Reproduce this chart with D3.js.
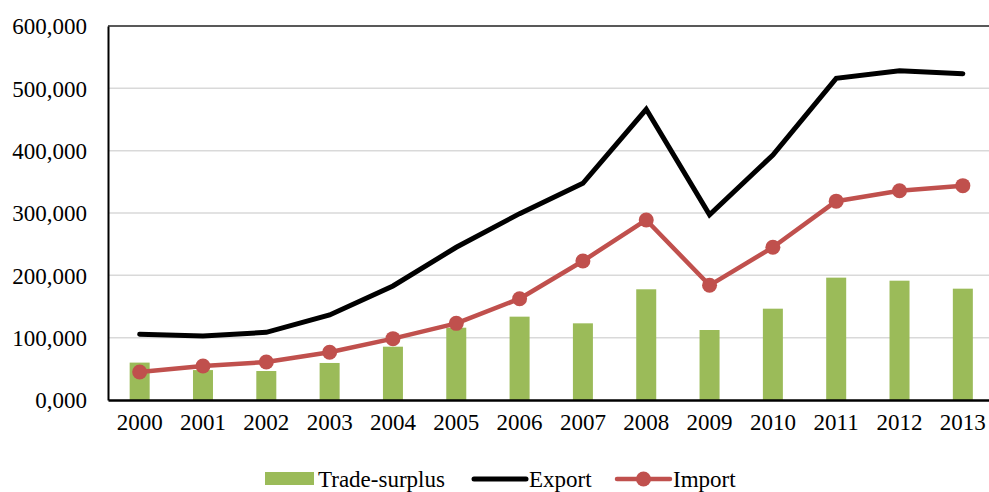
<!DOCTYPE html>
<html>
<head>
<meta charset="utf-8">
<script src="https://cdn.jsdelivr.net/npm/d3@7/dist/d3.min.js"></script>
<style>
  html, body { margin: 0; padding: 0; background: #fff; }
  svg { display: block; }
  svg text { font-family: "Liberation Serif", "Times New Roman", serif !important; fill: #000; font-size: 23px; }
</style>
</head>
<body>
<script>
// Annual trade figures, 2000–2013
const years = ["2000","2001","2002","2003","2004","2005","2006","2007","2008","2009","2010","2011","2012","2013"];
const exportValues = [105400, 102700, 108600, 136400, 183000, 245000, 299000, 347600, 466400, 297000, 393000, 516000, 528300, 523500];
const importValues = [45000, 54500, 61000, 76500, 98400, 123000, 162500, 223000, 288800, 184000, 245000, 319000, 335800, 343900];
const surplusValues = [60000, 48000, 46500, 59400, 85500, 116000, 133700, 123000, 177600, 112300, 146500, 196300, 191400, 178600];
const yTicks = [0, 100000, 200000, 300000, 400000, 500000, 600000];

const W = 989, H = 492;
const plotLeft = 108, plotRight = 994.5, plotTop = 26, plotBottom = 400;

const svg = d3.select("body").append("svg").attr("width", W).attr("height", H);

const x = d3.scaleBand().domain(years).range([plotLeft, plotRight]).padding(0);
const y = d3.scaleLinear().domain([0, 600000]).range([plotBottom, plotTop]);

const fmt = v => v === 0 ? "0,000" : d3.format(",")(v);

// gridlines
svg.append("g")
  .selectAll("line")
  .data(yTicks.filter(t => t > 0 && t < 600000))
  .join("line")
  .attr("x1", plotLeft).attr("x2", plotRight)
  .attr("y1", d => y(d)).attr("y2", d => y(d))
  .attr("stroke", "#d9d9d9").attr("stroke-width", 1.5);

// top frame line
svg.append("line")
  .attr("x1", plotLeft).attr("x2", plotRight)
  .attr("y1", y(600000)).attr("y2", y(600000))
  .attr("stroke", "#222").attr("stroke-width", 1.5);

// y axis
const yAxis = d3.axisLeft(y).tickValues(yTicks).tickFormat(fmt).tickSize(0).tickPadding(21);
const gy = svg.append("g").attr("transform", `translate(${plotLeft},0)`).call(yAxis);
gy.select(".domain").attr("stroke", "#000").attr("stroke-width", 2);
gy.selectAll("text").attr("dy", "0.34em");

// bars: trade surplus
const barW = 20;
svg.append("g")
  .selectAll("rect")
  .data(surplusValues)
  .join("rect")
  .attr("x", (d, i) => x(years[i]) + x.bandwidth() / 2 - barW / 2)
  .attr("width", barW)
  .attr("y", d => y(d))
  .attr("height", d => y(0) - y(d))
  .attr("fill", "#9bbb59");

// x axis
const xAxis = d3.axisBottom(x).tickSize(0).tickPadding(14);
const gx = svg.append("g").attr("transform", `translate(0,${y(0)})`).call(xAxis);
gx.select(".domain").attr("stroke", "#000").attr("stroke-width", 2.5);

const cx = i => x(years[i]) + x.bandwidth() / 2;

// export line
svg.append("path")
  .datum(exportValues)
  .attr("fill", "none")
  .attr("stroke", "#000")
  .attr("stroke-width", 5)
  .attr("stroke-linejoin", "miter")
  .attr("stroke-linecap", "round")
  .attr("d", d3.line().x((d, i) => cx(i)).y(d => y(d)));

// import line with markers
svg.append("path")
  .datum(importValues)
  .attr("fill", "none")
  .attr("stroke", "#c0504d")
  .attr("stroke-width", 4.5)
  .attr("stroke-linejoin", "round")
  .attr("d", d3.line().x((d, i) => cx(i)).y(d => y(d)));

svg.append("g")
  .selectAll("circle")
  .data(importValues)
  .join("circle")
  .attr("cx", (d, i) => cx(i))
  .attr("cy", d => y(d))
  .attr("r", 7.5)
  .attr("fill", "#c0504d");

// legend
const lg = svg.append("g");
lg.append("rect").attr("x", 265).attr("y", 472).attr("width", 49).attr("height", 13).attr("fill", "#9bbb59");
lg.append("text").attr("x", 318).attr("y", 487).text("Trade-surplus");
lg.append("line").attr("x1", 474).attr("x2", 526).attr("y1", 479).attr("y2", 479)
  .attr("stroke", "#000").attr("stroke-width", 5).attr("stroke-linecap", "round");
lg.append("text").attr("x", 529).attr("y", 487).text("Export");
lg.append("line").attr("x1", 617).attr("x2", 670).attr("y1", 479).attr("y2", 479)
  .attr("stroke", "#c0504d").attr("stroke-width", 4.5).attr("stroke-linecap", "round");
lg.append("circle").attr("cx", 643.5).attr("cy", 479).attr("r", 7.5).attr("fill", "#c0504d");
lg.append("text").attr("x", 673).attr("y", 487).text("Import");
</script>
</body>
</html>
